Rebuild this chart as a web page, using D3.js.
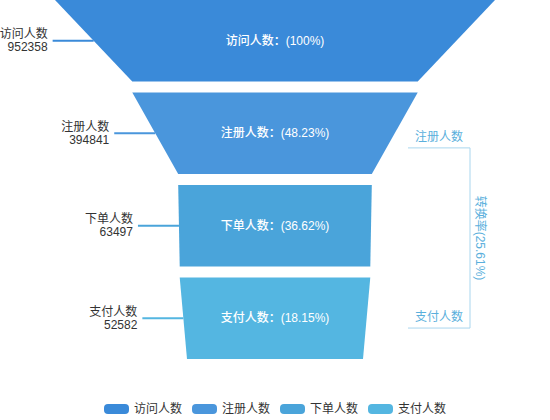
<!DOCTYPE html>
<html>
<head>
<meta charset="utf-8">
<script src="https://cdn.jsdelivr.net/npm/d3@7/dist/d3.min.js"></script>
<style>
  html, body { margin: 0; padding: 0; background: #fff; }
  svg { display: block; font-family: "Liberation Sans", "Noto Sans CJK SC", sans-serif; }
</style>
</head>
<body>
<svg id="chart" width="550" height="420"></svg>
<script>
// funnel stages, head counts and the rate shown inside each piece
const stages = ['访问人数', '注册人数', '下单人数', '支付人数'];
const counts = [952358, 394841, 63497, 52582];
const rates = ['100%', '48.23%', '36.62%', '18.15%'];

// conversion bracket on the right
const convEnds = ['注册人数', '支付人数'];
const convRate = '25.61%';

const palette = ['#3a8ad9', '#4a96dc', '#4aa4da', '#54b6e1'];

const width = 550;
const cx = width / 2;

const svg = d3.select('#chart');

const color = d3.scaleOrdinal().domain(stages).range(palette);

// piece width follows the count, with a minimum size
const wScale = d3.scaleLinear()
                 .domain([0, d3.max(counts)])
                 .range([176, 440]);

const yScale = d3.scaleBand()
                 .domain(stages)
                 .range([0, 359])
                 .paddingInner(0.12);

const bh = yScale.bandwidth();

const pieces = stages.map((s, i) => ({
  stage: s,
  count: counts[i],
  rate: rates[i],
  top: yScale(s),
  wTop: wScale(counts[i]),
  wBot: wScale(i + 1 < counts.length ? counts[i + 1] : 0)
}));

const funnel = svg.append('g').attr('class', 'funnel');

funnel.selectAll('path.piece')
      .data(pieces)
      .join('path')
      .attr('class', 'piece')
      .attr('fill', d => color(d.stage))
      .attr('d', d => {
        const y0 = d.top, y1 = d.top + bh;
        return `M${cx - d.wTop / 2},${y0}L${cx + d.wTop / 2},${y0}` +
               `L${cx + d.wBot / 2},${y1}L${cx - d.wBot / 2},${y1}Z`;
      });

// inner labels
funnel.selectAll('text.inner')
      .data(pieces)
      .join('text')
      .attr('class', 'inner')
      .attr('x', cx)
      .attr('y', d => d.top + bh / 2)
      .attr('text-anchor', 'middle')
      .attr('dominant-baseline', 'central')
      .attr('fill', '#fff')
      .attr('font-size', 12)
      .attr('font-weight', 500)
      .text(d => `${d.stage}：(${d.rate})`);

// outer labels with leader lines
const leftEdge = d => cx - (d.wTop + d.wBot) / 4;

funnel.selectAll('line.leader')
      .data(pieces)
      .join('line')
      .attr('class', 'leader')
      .attr('x1', d => leftEdge(d) - 41)
      .attr('x2', d => leftEdge(d))
      .attr('y1', d => d.top + bh / 2)
      .attr('y2', d => d.top + bh / 2)
      .attr('stroke', d => color(d.stage))
      .attr('stroke-width', 2);

const outer = funnel.selectAll('text.outer')
      .data(pieces)
      .join('text')
      .attr('class', 'outer')
      .attr('text-anchor', 'end')
      .attr('dominant-baseline', 'central')
      .attr('fill', '#333')
      .attr('font-size', 12);

outer.append('tspan')
     .attr('x', d => leftEdge(d) - 46)
     .attr('y', d => d.top + bh / 2 - 6.5)
     .text(d => d.stage);

outer.append('tspan')
     .attr('x', d => leftEdge(d) - 46)
     .attr('y', d => d.top + bh / 2 + 6.5)
     .text(d => d.count);

// conversion bracket
const bx0 = 408, bx1 = 470;
const by0 = yScale(convEnds[0]) + bh * 0.68;
const by1 = yScale(convEnds[1]) + bh * 0.62;

const conv = svg.append('g').attr('class', 'conversion');

conv.append('path')
    .attr('d', `M${bx0},${by0}H${bx1}V${by1}H${bx0}`)
    .attr('fill', 'none')
    .attr('stroke', '#a9d6ee')
    .attr('stroke-width', 1);

conv.selectAll('text.end')
    .data([[convEnds[0], by0], [convEnds[1], by1]])
    .join('text')
    .attr('class', 'end')
    .attr('x', bx0 + 7)
    .attr('y', d => d[1] - 11)
    .attr('dominant-baseline', 'central')
    .attr('fill', '#5aafdc')
    .attr('font-size', 12)
    .text(d => d[0]);

conv.append('text')
    .attr('transform', `translate(${bx1 + 10},${(by0 + by1) / 2}) rotate(90)`)
    .attr('text-anchor', 'middle')
    .attr('dominant-baseline', 'central')
    .attr('fill', '#5aafdc')
    .attr('font-size', 12)
    .text(`转换率(${convRate})`);

// legend
const itemW = 25, itemH = 10, textW = 48, gap = 10;
const itemStep = itemW + 5 + textW + gap;
const legendW = stages.length * itemStep - gap;
const legend = svg.append('g')
                  .attr('transform', `translate(${cx - legendW / 2},409)`);

const items = legend.selectAll('g.item')
                    .data(stages)
                    .join('g')
                    .attr('class', 'item')
                    .attr('transform', (d, i) => `translate(${i * itemStep},0)`);

items.append('rect')
     .attr('y', -itemH / 2)
     .attr('width', itemW)
     .attr('height', itemH)
     .attr('rx', 4)
     .attr('fill', d => color(d));

items.append('text')
     .attr('x', itemW + 5)
     .attr('dominant-baseline', 'central')
     .attr('fill', '#333')
     .attr('font-size', 12)
     .text(d => d);
</script>
</body>
</html>
